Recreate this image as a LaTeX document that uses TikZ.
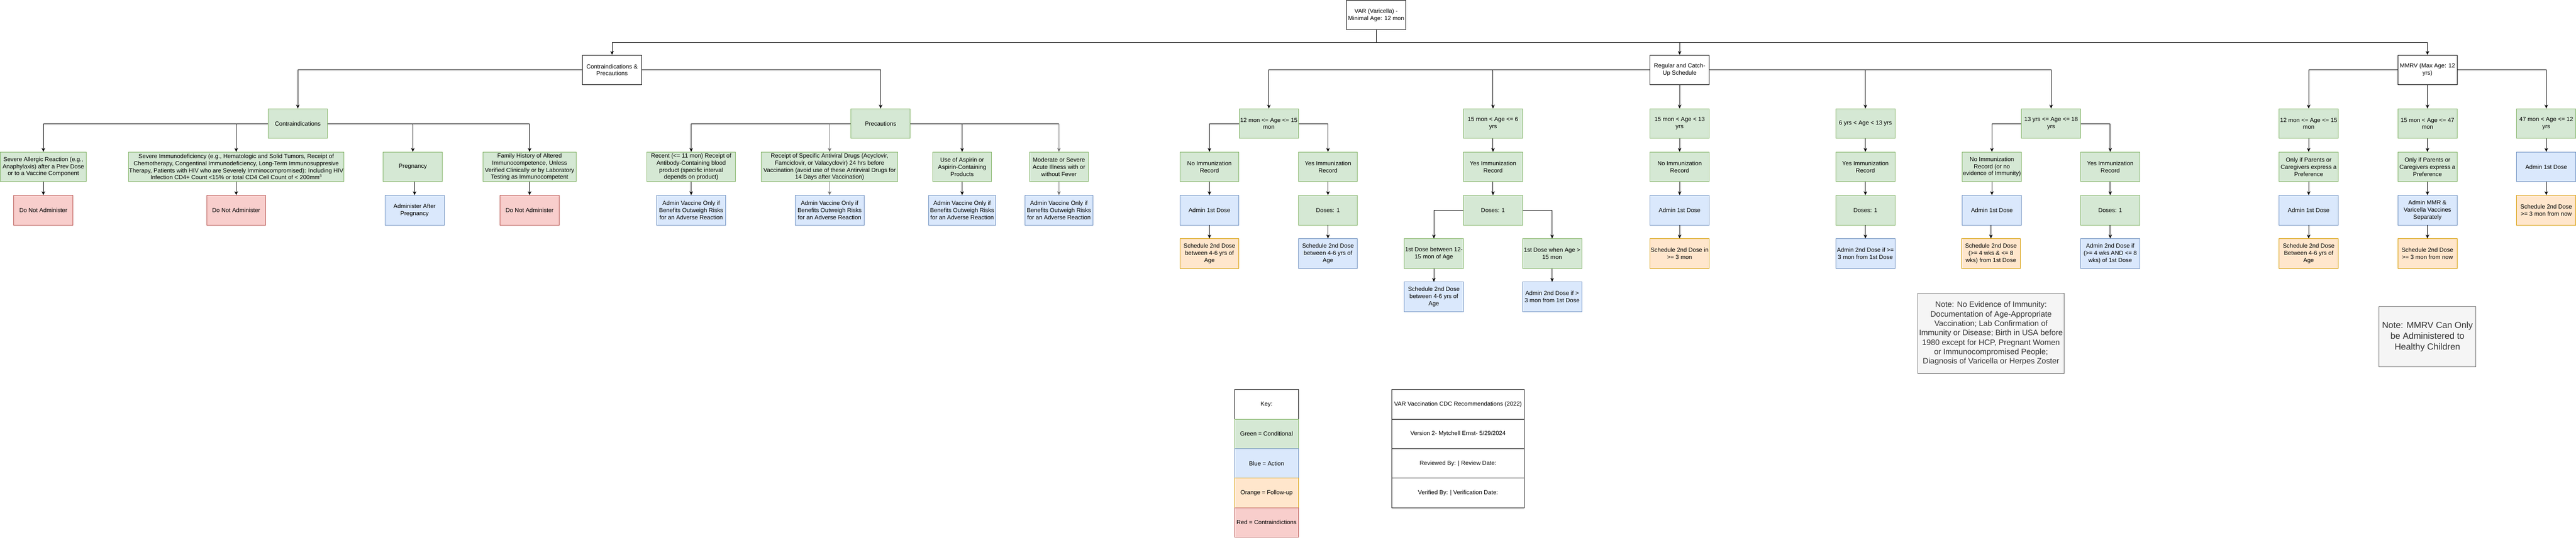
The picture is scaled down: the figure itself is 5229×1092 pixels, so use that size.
\documentclass[tikz,border=0pt]{standalone}
\usepackage{fontspec}
\setmainfont{Liberation Sans}
\usetikzlibrary{arrows.meta}
\definecolor{gfill}{HTML}{D5E8D4}\definecolor{gline}{HTML}{82B366}
\definecolor{bfill}{HTML}{DAE8FC}\definecolor{bline}{HTML}{6C8EBF}
\definecolor{ofill}{HTML}{FFE6CC}\definecolor{oline}{HTML}{D79B00}
\definecolor{rfill}{HTML}{F8CECC}\definecolor{rline}{HTML}{B85450}
\definecolor{nfill}{HTML}{F5F5F5}\definecolor{nline}{HTML}{666666}\definecolor{ntext}{HTML}{333333}
\definecolor{edgegray}{HTML}{707070}
\begin{document}
\begin{tikzpicture}[x=1pt,y=-1pt,
 vbox/.style={draw, line width=1pt, minimum width=120pt, minimum height=60pt, inner sep=0.5pt, align=center, font=\fontsize{12pt}{14.4pt}\selectfont},
 vplain/.style={vbox, draw=black, fill=white},
 vcond/.style={vbox, draw=gline, fill=gfill},
 vact/.style={vbox, draw=bline, fill=bfill},
 vfol/.style={vbox, draw=oline, fill=ofill},
 vred/.style={vbox, draw=rline, fill=rfill},
 vnote/.style={vbox, draw=nline, fill=nfill, text=ntext},
 vedge/.style={draw=black, line width=1pt, -{Stealth[length=8pt,width=7pt,inset=2.5pt]}},
 vgedge/.style={vedge, draw=edgegray}
]
\useasboundingbox (0,0) rectangle (5229,1092);
\coordinate (rb) at (0,86);

% top level
\node[vplain] (root) at (2793.4,30.5) {VAR (Varicella) -\\Minimal Age: 12 mon};
\node[vplain] (cp) at (1242.4,142) {Contraindications \&\\Precautions};
\node[vplain] (reg) at (3409.4,142) {Regular and Catch-\\Up Schedule};
\node[vplain] (mmrv) at (4927.4,142) {MMRV (Max Age: 12\\yrs)};
\draw[vedge] (root.south) -- (root.south |- rb) -| (cp.north);
\draw[vedge] (root.south) -- (root.south |- rb) -| (reg.north);
\draw[vedge] (root.south) -- (root.south |- rb) -| (mmrv.north);

% contraindications & precautions
\node[vcond] (ci) at (604.5,251) {Contraindications};
\node[vcond] (pr) at (1787.5,251) {Precautions};
\draw[vedge] (cp.west) -| (ci.north);
\draw[vedge] (cp.east) -| (pr.north);

\node[vcond, minimum width=175pt] (allerg) at (88,339) {Severe Allergic Reaction (e.g.,\\Anaphylaxis) after a Prev Dose\\or to a Vaccine Component};
\node[vcond, minimum width=437pt, inner xsep=0pt] (immuno) at (479.5,339) {Severe Immunodeficiency (e.g., Hematologic and Solid Tumors, Receipt of\\Chemotherapy, Congentinal Immunodeficiency, Long-Term Immunosuppresive\\Therapy, Patients with HIV who are Severely Imminocompromised): Including HIV\\Infection CD4+ Count <15\% or total CD4 Cell Count of < 200mm\textsuperscript{3}};
\node[vcond] (preg) at (838,339) {Pregnancy};
\node[vcond, minimum width=190pt] (family) at (1075,339) {Family History of Altered\\Immunocompetence, Unless\\Verified Clinically or by Laboratory\\Testing as Immunocompetent};
\draw[vedge] (ci.west) -| (allerg.north);
\draw[vedge] (ci.west) -| (immuno.north);
\draw[vedge] (ci.east) -| (preg.north);
\draw[vedge] (ci.east) -| (family.north);

\node[vred] (dna1) at (88,427) {Do Not Administer};
\node[vred] (dna2) at (479.5,427) {Do Not Administer};
\node[vact] (afterp) at (841.5,427) {Administer After\\Pregnancy};
\node[vred] (dna3) at (1075,427) {Do Not Administer};
\draw[vedge] (allerg.south) -- (dna1.north);
\draw[vedge] (immuno.south) -- (dna2.north);
\draw[vedge] (afterp.north |- preg.south) -- (afterp.north);
\draw[vedge] (family.south) -- (dna3.north);

\node[vcond, minimum width=180pt] (recent) at (1403,339) {Recent (<= 11 mon) Receipt of\\Antibody-Containing blood\\product (specific interval\\depends on product)};
\node[vcond, minimum width=277pt] (antiv) at (1684,339) {Receipt of Specific Antiviral Drugs (Acyclovir,\\Famciclovir, or Valacyclovir) 24 hrs before\\Vaccination (avoid use of these Antirviral Drugs for\\14 Days after Vaccination)};
\node[vcond] (aspirin) at (1953,339) {Use of Aspirin or\\Aspirin-Containing\\Products};
\node[vcond] (moder) at (2149.5,339) {Moderate or Severe\\Acute Illness with or\\without Fever};
\draw[vgedge] (pr.west) -| (antiv.north);
\draw[vgedge] (pr.east) -| (moder.north);
\draw[vedge] (pr.west) -| (recent.north);
\draw[vedge] (pr.east) -| (aspirin.north);
\draw[black, line width=1pt] (pr.east) -- (pr.east -| moder.north);

\node[vact, minimum width=140pt] (av1) at (1403,427) {Admin Vaccine Only if\\Benefits Outweigh Risks\\for an Adverse Reaction};
\node[vact, minimum width=140pt] (av2) at (1684,427) {Admin Vaccine Only if\\Benefits Outweigh Risks\\for an Adverse Reaction};
\node[vact, minimum width=136pt] (av3) at (1953,427) {Admin Vaccine Only if\\Benefits Outweigh Risks\\for an Adverse Reaction};
\node[vact, minimum width=138pt] (av4) at (2149.5,427) {Admin Vaccine Only if\\Benefits Outweigh Risks\\for an Adverse Reaction};
\draw[vedge] (recent.south) -- (av1.north);
\draw[vgedge] (antiv.south) -- (av2.north);
\draw[vedge] (aspirin.south) -- (av3.north);
\draw[vgedge] (moder.south) -- (av4.north);

% regular schedule
\node[vcond] (a12) at (2575.6,251) {12 mon <= Age <= 15\\mon};
\node[vcond] (a15) at (3030.6,251) {15 mon < Age <= 6\\yrs};
\node[vcond] (a15b) at (3409.4,251) {15 mon < Age < 13\\yrs};
\node[vcond] (a6) at (3786.5,251) {6 yrs < Age < 13 yrs};
\node[vcond] (a13) at (4163.5,251) {13 yrs <= Age <= 18\\yrs};
\draw[vedge] (reg.west) -| (a12.north);
\draw[vedge] (reg.west) -| (a15.north);
\draw[vedge] (reg.south) -- (a15b.north);
\draw[vedge] (reg.east) -| (a6.north);
\draw[vedge] (reg.east) -| (a13.north);

% 12 mon <= age <= 15 mon
\node[vcond] (no1) at (2455,339) {No Immunization\\Record};
\node[vcond] (yes1) at (2695.6,339) {Yes Immunization\\Record};
\node[vact] (ad1) at (2455,427) {Admin 1st Dose};
\node[vcond] (ds1) at (2695.6,427) {Doses: 1};
\node[vfol] (sc1) at (2455,515) {Schedule 2nd Dose\\between 4-6 yrs of\\Age};
\node[vact] (sc2) at (2695.6,515) {Schedule 2nd Dose\\between 4-6 yrs of\\Age};
\draw[vedge] (a12.west) -| (no1.north);
\draw[vedge] (a12.east) -| (yes1.north);
\draw[vedge] (no1.south) -- (ad1.north);
\draw[vedge] (yes1.south) -- (ds1.north);
\draw[vedge] (ad1.south) -- (sc1.north);
\draw[vedge] (ds1.south) -- (sc2.north);

% 15 mon < age <= 6 yrs
\node[vcond] (yes2) at (3030.6,339) {Yes Immunization\\Record};
\node[vcond] (ds2) at (3030.6,427) {Doses: 1};
\node[vcond] (f1) at (2910.6,515) {1st Dose between 12-\\15 mon of Age};
\node[vcond] (f2) at (3150.6,515) {1st Dose when Age >\\15 mon};
\node[vact] (sc3) at (2910.6,603) {Schedule 2nd Dose\\between 4-6 yrs of\\Age};
\node[vact] (ad2) at (3150.6,603) {Admin 2nd Dose if >\\3 mon from 1st Dose};
\draw[vedge] (a15.south) -- (yes2.north);
\draw[vedge] (yes2.south) -- (ds2.north);
\draw[vedge] (ds2.west) -| (f1.north);
\draw[vedge] (ds2.east) -| (f2.north);
\draw[vedge] (f1.south) -- (sc3.north);
\draw[vedge] (f2.south) -- (ad2.north);

% 15 mon < age < 13 yrs
\node[vcond] (no3) at (3409.4,339) {No Immunization\\Record};
\node[vact] (ad3) at (3409.4,427) {Admin 1st Dose};
\node[vfol] (sc4) at (3409.4,515) {Schedule 2nd Dose in\\>= 3 mon};
\draw[vedge] (a15b.south) -- (no3.north);
\draw[vedge] (no3.south) -- (ad3.north);
\draw[vedge] (ad3.south) -- (sc4.north);

% 6 yrs < age < 13 yrs
\node[vcond] (yes4) at (3786.5,339) {Yes Immunization\\Record};
\node[vcond] (ds4) at (3786.5,427) {Doses: 1};
\node[vact] (ad4) at (3786.5,515) {Admin 2nd Dose if >=\\3 mon from 1st Dose};
\draw[vedge] (a6.south) -- (yes4.north);
\draw[vedge] (yes4.south) -- (ds4.north);
\draw[vedge] (ds4.south) -- (ad4.north);

% 13 yrs <= age <= 18 yrs
\node[vcond] (no5) at (4043.3,339) {No Immunization\\Record (or no\\evidence of Immunity)};
\node[vcond] (yes5) at (4283.5,339) {Yes Immunization\\Record};
\node[vact] (ad5) at (4043.3,427) {Admin 1st Dose};
\node[vcond] (ds5) at (4283.5,427) {Doses: 1};
\node[vfol] (sc5) at (4041.3,515) {Schedule 2nd Dose\\(>= 4 wks \& <= 8\\wks) from 1st Dose};
\node[vact] (ad6) at (4283.5,515) {Admin 2nd Dose if\\(>= 4 wks AND <= 8\\wks) of 1st Dose};
\draw[vedge] (a13.west) -| (no5.north);
\draw[vedge] (a13.east) -| (yes5.north);
\draw[vedge] (no5.south) -- (ad5.north);
\draw[vedge] (yes5.south) -- (ds5.north);
\draw[vedge] (sc5.north |- ad5.south) -- (sc5.north);
\draw[vedge] (ds5.south) -- (ad6.north);

% MMRV
\node[vcond] (m12) at (4686.3,251) {12 mon <= Age <= 15\\mon};
\node[vcond] (m15) at (4927.4,251) {15 mon < Age <= 47\\mon};
\node[vcond] (m47) at (5168.6,251) {47 mon < Age <= 12\\yrs};
\draw[vedge] (mmrv.west) -| (m12.north);
\draw[vedge] (mmrv.south) -- (m15.north);
\draw[vedge] (mmrv.east) -| (m47.north);

\node[vcond] (o1) at (4686.3,339) {Only if Parents or\\Caregivers express a\\Preference};
\node[vcond] (o2) at (4927.4,339) {Only if Parents or\\Caregivers express a\\Preference};
\node[vact] (ma1) at (5168.6,339) {Admin 1st Dose};
\node[vact] (ma2) at (4686.3,427) {Admin 1st Dose};
\node[vact] (mmr) at (4927.4,427) {Admin MMR \&\\Varicella Vaccines\\Separately};
\node[vfol] (ms1) at (5168.6,427) {Schedule 2nd Dose\\>= 3 mon from now};
\node[vfol] (ms2) at (4686.3,515) {Schedule 2nd Dose\\Between 4-6 yrs of\\Age};
\node[vfol] (ms3) at (4927.4,515) {Schedule 2nd Dose\\>= 3 mon from now};
\draw[vedge] (m12.south) -- (o1.north);
\draw[vedge] (m15.south) -- (o2.north);
\draw[vedge] (m47.south) -- (ma1.north);
\draw[vedge] (o1.south) -- (ma2.north);
\draw[vedge] (o2.south) -- (mmr.north);
\draw[vedge] (ma1.south) -- (ms1.north);
\draw[vedge] (ma2.south) -- (ms2.north);
\draw[vedge] (mmr.south) -- (ms3.north);

% notes
\node[vnote, minimum width=297pt, minimum height=163pt, font=\fontsize{16pt}{19.2pt}\selectfont] (n1) at (4041.5,677.5) {Note: No Evidence of Immunity:\\Documentation of Age-Appropriate\\Vaccination; Lab Confirmation of\\Immunity or Disease; Birth in USA before\\1980 except for HCP, Pregnant Women\\or Immunocompromised People;\\Diagnosis of Varicella or Herpes Zoster};
\node[vnote, minimum width=197pt, minimum height=122pt, font=\fontsize{18pt}{21.6pt}\selectfont] (n2) at (4927.4,684) {Note: MMRV Can Only\\be Administered to\\Healthy Children};

% key
\node[vplain, minimum width=129pt] (k0) at (2571,821.3) {Key:};
\node[vcond, minimum width=129pt] (k1) at (2571,881.3) {Green = Conditional};
\node[vact, minimum width=129pt] (k2) at (2571,941.3) {Blue = Action};
\node[vfol, minimum width=129pt] (k3) at (2571,1001.3) {Orange = Follow-up};
\node[vred, minimum width=129pt] (k4) at (2571,1061.3) {Red = Contraindictions};

% info table
\node[vplain, minimum width=268pt] (t0) at (2959.6,821.3) {VAR Vaccination CDC Recommendations (2022)};
\node[vplain, minimum width=268pt] (t1) at (2959.6,881.3) {Version 2- Mytchell Ernst- 5/29/2024};
\node[vplain, minimum width=268pt] (t2) at (2959.6,941.3) {Reviewed By: | Review Date:};
\node[vplain, minimum width=268pt] (t3) at (2959.6,1001.3) {Verified By: | Verification Date:};
\end{tikzpicture}
\end{document}
